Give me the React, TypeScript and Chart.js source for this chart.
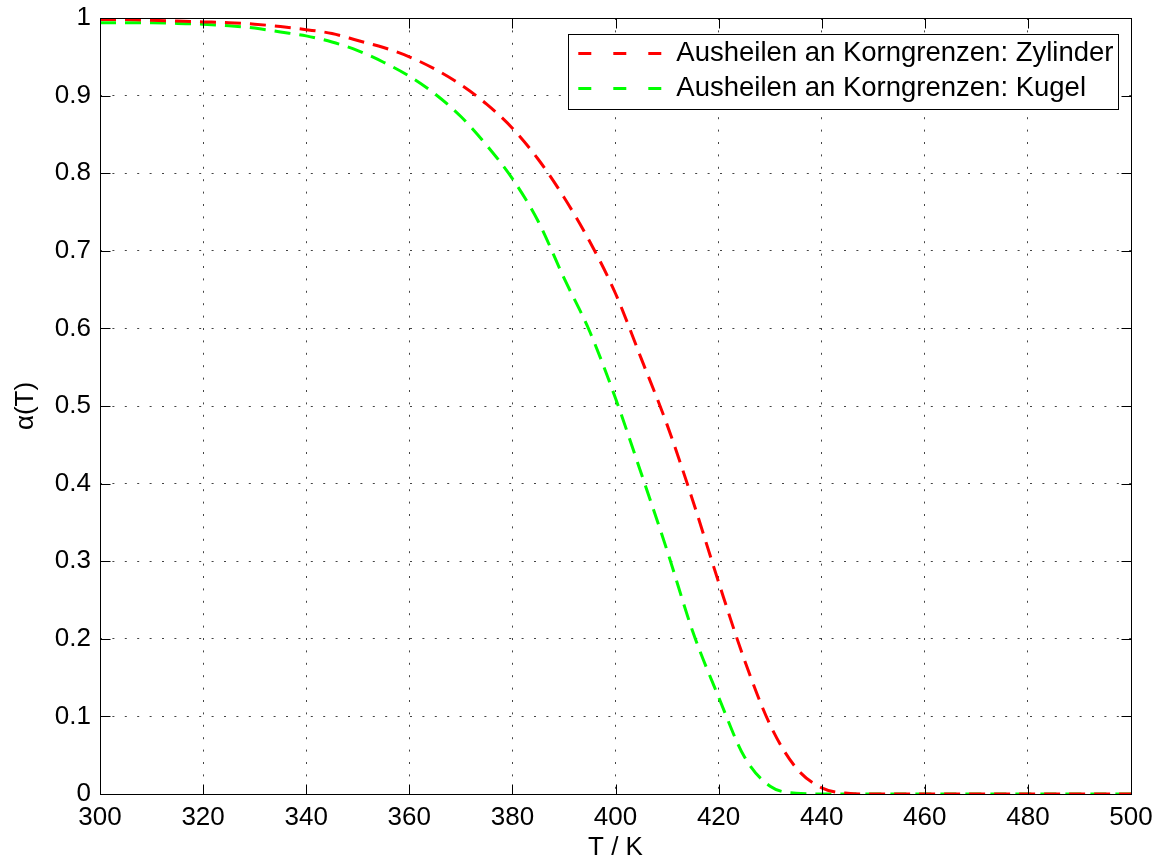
import React, { useEffect, useRef } from "react";
import { Chart, registerables } from "chart.js";

Chart.register(...registerables);

// ---- data ----
const temperatures = [
  300, 305, 310, 315, 320, 325, 330, 335, 340, 345, 350, 355, 360, 365, 370, 375, 380, 385, 390, 395,
  400, 405, 410, 415, 420, 425, 430, 435, 440, 445, 450, 455, 460, 465, 470, 475, 480, 485, 490, 495, 500,
];
const zylinder = [
  0.998, 0.998, 0.997, 0.996, 0.995, 0.994, 0.992, 0.989, 0.985, 0.98, 0.971, 0.962, 0.95, 0.934, 0.914,
  0.889, 0.858, 0.818, 0.769, 0.712, 0.645, 0.561, 0.476, 0.378, 0.273, 0.173, 0.089, 0.034, 0.008, 0.001,
  0, 0, 0, 0, 0, 0, 0, 0, 0, 0, 0,
];
const kugel = [
  0.994, 0.994, 0.994, 0.993, 0.992, 0.99, 0.987, 0.982, 0.977, 0.969, 0.958, 0.943, 0.925, 0.902, 0.873,
  0.836, 0.793, 0.738, 0.665, 0.596, 0.51, 0.413, 0.314, 0.209, 0.125, 0.048, 0.01, 0.001, 0, 0,
  0, 0, 0, 0, 0, 0, 0, 0, 0, 0, 0,
];
const xTickValues = [300, 320, 340, 360, 380, 400, 420, 440, 460, 480, 500];
const yTickValues = [0, 0.1, 0.2, 0.3, 0.4, 0.5, 0.6, 0.7, 0.8, 0.9, 1];
const seriesLabels = ["Ausheilen an Korngrenzen: Zylinder", "Ausheilen an Korngrenzen: Kugel"];
const seriesColors = ["#ff0000", "#00ff00"];
const xTitle = "T / K";
const yTitle = "α(T)";

const FONT = "Liberation Sans, Arial, Helvetica, sans-serif";

const frameAndLegend = {
  id: "frameAndLegend",
  afterDraw(chart: any) {
    const { ctx, chartArea } = chart;
    const { left, right, top, bottom } = chartArea;
    const L = Math.round(left) + 0.5;
    const R = Math.round(right) + 0.5;
    const T = Math.round(top) + 0.5;
    const B = Math.round(bottom) + 0.5;
    ctx.save();
    ctx.strokeStyle = "#000";
    ctx.lineWidth = 1;
    ctx.setLineDash([]);
    ctx.strokeRect(L, T, R - L, B - T);
    const xs = chart.scales.x;
    const ys = chart.scales.y;
    const tl = 10;
    ctx.beginPath();
    xTickValues.forEach((v) => {
      const px = Math.round(xs.getPixelForValue(v)) + 0.5;
      ctx.moveTo(px, B);
      ctx.lineTo(px, B - tl);
      ctx.moveTo(px, T);
      ctx.lineTo(px, T + tl);
    });
    yTickValues.forEach((v) => {
      const py = Math.round(ys.getPixelForValue(v)) + 0.5;
      ctx.moveTo(L, py);
      ctx.lineTo(L + tl, py);
      ctx.moveTo(R, py);
      ctx.lineTo(R - tl, py);
    });
    ctx.stroke();

    // legend
    ctx.font = `27.5px ${FONT}`;
    const textW = Math.max(...seriesLabels.map((s) => ctx.measureText(s).width));
    const boxRight = Math.round(right) - 13 + 0.5;
    const boxTop = Math.round(top) + 16 + 0.5;
    const textLeft = boxRight - 5 - textW;
    const lineX2 = textLeft - 12;
    const lineX1 = lineX2 - 86;
    const boxLeft = Math.round(lineX1 - 10) + 0.5;
    const boxH = 75;
    ctx.fillStyle = "#fff";
    ctx.fillRect(boxLeft, boxTop, boxRight - boxLeft, boxH);
    ctx.strokeStyle = "#000";
    ctx.lineWidth = 1;
    ctx.strokeRect(boxLeft, boxTop, boxRight - boxLeft, boxH);
    seriesLabels.forEach((label, i) => {
      const cy = boxTop + 19 + i * 35;
      ctx.strokeStyle = seriesColors[i];
      ctx.lineWidth = 3;
      ctx.setLineDash([13, 22]);
      ctx.beginPath();
      ctx.moveTo(lineX1, cy);
      ctx.lineTo(lineX2, cy);
      ctx.stroke();
      ctx.setLineDash([]);
      ctx.fillStyle = "#000";
      ctx.textBaseline = "middle";
      ctx.textAlign = "left";
      ctx.fillText(label, textLeft, cy);
    });
    ctx.restore();
  },
};

export default function App() {
  const canvasRef = useRef<HTMLCanvasElement | null>(null);

  useEffect(() => {
    document.body.style.margin = "0";
    const canvas = canvasRef.current;
    if (!canvas) return;
    const makeData = (vals: number[]) => temperatures.map((t, i) => ({ x: t, y: vals[i] }));
    const chart = new Chart(canvas, {
      type: "line",
      data: {
        datasets: [
          {
            label: seriesLabels[0],
            data: makeData(zylinder),
            borderColor: seriesColors[0],
            borderWidth: 3,
            borderDash: [16, 9],
            pointRadius: 0,
            fill: false,
            cubicInterpolationMode: "monotone",
          },
          {
            label: seriesLabels[1],
            data: makeData(kugel),
            borderColor: seriesColors[1],
            borderWidth: 3,
            borderDash: [16, 9],
            pointRadius: 0,
            fill: false,
            cubicInterpolationMode: "monotone",
          },
        ],
      },
      options: {
        animation: false,
        responsive: false,
        devicePixelRatio: 1,
        layout: { padding: { top: 18, right: 32, left: 0, bottom: 0 } },
        plugins: {
          legend: { display: false },
          tooltip: { enabled: false },
        },
        scales: {
          x: {
            type: "linear",
            min: 300,
            max: 500,
            afterBuildTicks: (scale: any) => {
              scale.ticks = xTickValues.map((v) => ({ value: v }));
            },
            afterFit: (scale: any) => {
              scale.height = 69;
              scale.paddingLeft = 0;
              scale.paddingRight = 0;
            },
            ticks: {
              font: { family: FONT, size: 26 },
              color: "#000",
              padding: 8,
              maxRotation: 0,
              autoSkip: false,
              callback: (v: any) => String(v),
            },
            grid: {
              color: "#444",
              lineWidth: 1,
              drawTicks: false,
            },
            border: { display: false, dash: [2, 10.4] },
            title: {
              display: true,
              text: xTitle,
              font: { family: FONT, size: 26 },
              color: "#000",
              padding: { top: 0, bottom: 0 },
            },
          },
          y: {
            type: "linear",
            min: 0,
            max: 1,
            afterBuildTicks: (scale: any) => {
              scale.ticks = yTickValues.map((v) => ({ value: v }));
            },
            afterFit: (scale: any) => {
              scale.width = 100;
              scale.paddingTop = 0;
              scale.paddingBottom = 0;
            },
            ticks: {
              font: { family: FONT, size: 26 },
              color: "#000",
              padding: 9,
              autoSkip: false,
              callback: (v: any) => String(Number(Number(v).toFixed(1))),
            },
            grid: {
              color: "#444",
              lineWidth: 1,
              drawTicks: false,
            },
            border: { display: false, dash: [2, 10.4] },
            title: {
              display: true,
              text: yTitle,
              font: { family: FONT, size: 26 },
              color: "#000",
              padding: { top: 10, bottom: 0 },
            },
          },
        },
      },
      plugins: [frameAndLegend],
    } as any);
    return () => chart.destroy();
  }, []);

  return (
    <div style={{ position: "absolute", left: 0, top: 0, width: 1163, height: 863, background: "#fff" }}>
      <canvas ref={canvasRef} width={1163} height={863} style={{ display: "block" }} />
    </div>
  );
}
